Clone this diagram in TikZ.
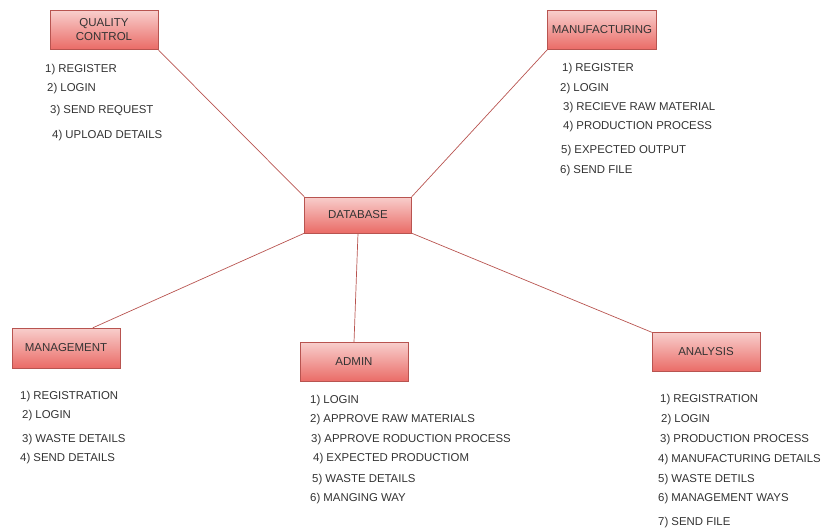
\documentclass[tikz,border=0pt]{standalone}
\usepackage{fontspec}
\setmainfont{Liberation Sans}
\usepackage{xcolor}
\usetikzlibrary{positioning}
\definecolor{boxtop}{HTML}{F8CECC}
\definecolor{boxbot}{HTML}{EA6B66}
\definecolor{boxline}{HTML}{B85450}
\definecolor{txt}{HTML}{333333}

\begin{document}
\begin{tikzpicture}[
        x=1pt, y=-1pt,
        box/.style={draw=boxline, top color=boxtop, bottom color=boxbot,
            minimum width=108pt, minimum height=39pt, inner sep=1pt,
            align=center, text=txt, font=\fontsize{11.5}{14}\selectfont},
        item/.style={anchor=west, inner sep=0pt, text=txt,
            font=\fontsize{11.4}{14}\selectfont},
        link/.style={draw=boxline, line width=0.7pt}
    ]
        \useasboundingbox (0,0) rectangle (828,530);

        % boxes
        \node[box] (qc) at (104,30) {QUALITY\\CONTROL};
        \node[box, minimum width=109pt] (mfg) at (602,30) {MANUFACTURING};
        \node[box, minimum width=107pt, minimum height=36pt] (db) at (358,215) {DATABASE};
        \node[box, minimum height=40pt] (mgt) at (66,348) {MANAGEMENT};
        \node[box] (adm) at (354,362) {ADMIN};
        \node[box] (ana) at (706,352) {ANALYSIS};

        % links
        \path[link]
        (qc.south east) -- (db.north west)
        (mfg.south west) -- (db.north east)
        (db.south west) -- (mgt.37)
        (db.south) -- (adm.north)
        (db.south east) -- (ana.north west);

        % quality control
        \node[item] (qc1) at (45,70) {1) REGISTER};
        \node[item] (qc2) at (47,89) {2) LOGIN};
        \node[item] (qc3) at (50,111) {3) SEND REQUEST};
        \node[item] (qc4) at (52,136) {4) UPLOAD DETAILS};

        % manufacturing
        \node[item] (mfg1) at (562,69) {1) REGISTER};
        \node[item] (mfg2) at (560,89) {2) LOGIN};
        \node[item] (mfg3) at (563,108) {3) RECIEVE RAW MATERIAL};
        \node[item] (mfg4) at (563,127) {4) PRODUCTION PROCESS};
        \node[item] (mfg5) at (561,151) {5) EXPECTED OUTPUT};
        \node[item] (mfg6) at (560,171) {6) SEND FILE};

        % management
        \node[item] (mgt1) at (20,397) {1) REGISTRATION};
        \node[item] (mgt2) at (22,416) {2) LOGIN};
        \node[item] (mgt3) at (22,440) {3) WASTE DETAILS};
        \node[item] (mgt4) at (20,459) {4) SEND DETAILS};

        % admin
        \node[item] (adm1) at (310,401) {1) LOGIN};
        \node[item] (adm2) at (310,420) {2) APPROVE RAW MATERIALS};
        \node[item] (adm3) at (311,440) {3) APPROVE RODUCTION PROCESS};
        \node[item] (adm4) at (313,459) {4) EXPECTED PRODUCTIOM};
        \node[item] (adm5) at (312,480) {5) WASTE DETAILS};
        \node[item] (adm6) at (310,499) {6) MANGING WAY};

        % analysis
        \node[item] (ana1) at (660,400) {1) REGISTRATION};
        \node[item] (ana2) at (661,420) {2) LOGIN};
        \node[item] (ana3) at (660,440) {3) PRODUCTION PROCESS};
        \node[item] (ana4) at (658,460) {4) MANUFACTURING DETAILS};
        \node[item] (ana5) at (658,480) {5) WASTE DETILS};
        \node[item] (ana6) at (658,499) {6) MANAGEMENT WAYS};
        \node[item] (ana7) at (658,523) {7) SEND FILE};
    \end{tikzpicture}
\end{document}
